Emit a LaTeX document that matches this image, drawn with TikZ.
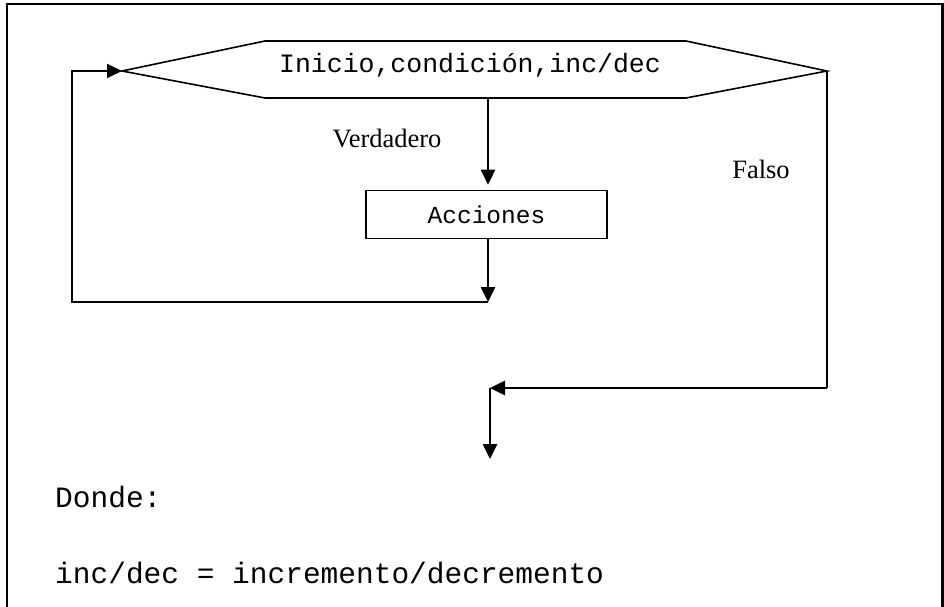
\documentclass[tikz,border=0pt]{standalone}
\usepackage{fontspec}
\setmainfont{Liberation Serif}
\newfontfamily\monof{Liberation Mono}
\usetikzlibrary{arrows.meta}
\begin{document}
\begin{tikzpicture}[x=1pt,y=-1pt,
  tip/.style={-{Triangle[length=15pt,width=14pt]}},
  conn/.style={line width=2.6pt,tip},
  plain/.style={line width=1.8pt},
  shapeline/.style={line width=1.6pt},
  framestyle/.style={line width=2.4pt},
  serlbl/.style={inner sep=0,anchor=base,font=\fontsize{26.5}{30}\selectfont},
  monolbl/.style={inner sep=0,anchor=base west,font=\monof\fontsize{29.5}{34}\selectfont},
  actbox/.style={draw,shapeline,minimum width=241pt,minimum height=48pt,inner sep=0,font=\monof\fontsize{24.5}{28}\selectfont}]
\useasboundingbox (0,0) rectangle (944,607);
% frame
\draw[framestyle] (7,607) -- (7,4) -- (942.5,4) -- (942.5,607);
% hexagon (loop header)
\coordinate (hL) at (122,71);
\coordinate (hR) at (827,71);
\coordinate (hB) at (488,98);
\draw[shapeline] (hL) -- (265,41) -- (686,41) -- (hR) -- (686,98) -- (265,98) -- cycle;
\node[inner sep=0,anchor=base,font=\monof\fontsize{26.5}{30}\selectfont] (ini) at (470,73) {Inicio,condición,inc/dec};
% actions box
\node[actbox] (acc) at (486.5,214.5) {Acciones};
\draw[conn,shorten >=5pt] (hB) -- (hB |- acc.north);
% loop back
\coordinate (jn) at (488,302);
\coordinate (lb) at (72,302);
\coordinate (lt) at (72,71);
\draw[conn] (acc.south -| jn) -- (jn);
\draw[plain,tip] (jn) -- (lb) -- (lt) -- (hL);
% false branch
\coordinate (rb) at (827,388);
\coordinate (mj) at (490,388);
\coordinate (fin) at (490,459);
\draw[plain] (hR) -- (rb);
\draw[line width=2.8pt,tip] (rb) -- (mj);
\draw[conn] (mj) -- (fin);
% labels
\node[serlbl] (ver) at (387,147) {Verdadero};
\node[serlbl] (fal) at (761,178) {Falso};
\node[monolbl] (don) at (55,507) {Donde:};
\node[monolbl] (inc) at (55,583) {inc/dec = incremento/decremento};
\end{tikzpicture}
\end{document}
